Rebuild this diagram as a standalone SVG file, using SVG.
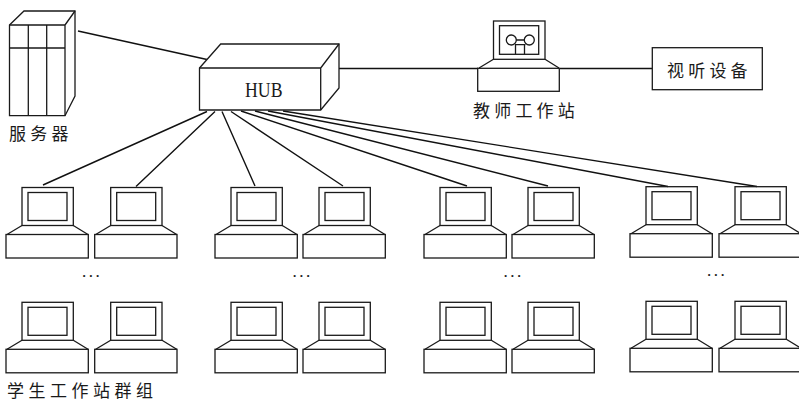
<svg xmlns="http://www.w3.org/2000/svg" width="799" height="401" viewBox="0 0 799 401">
<style>
.s{fill:none;stroke:#1a1a1a;stroke-width:1.3}
.w{fill:#fff;stroke:#1a1a1a;stroke-width:1.3}
.c{stroke:#111;stroke-width:1.4;fill:none}
text{font-family:"Noto Sans CJK SC","Liberation Serif",serif;fill:#1a1a1a}
.l{font-size:17px;letter-spacing:4.200px}
.d{font-family:"Liberation Serif",serif;font-size:13px;letter-spacing:3.500px;font-weight:bold}
.h{font-family:"Liberation Serif",serif;font-size:20px}
</style>
<defs>
<g id="pc">
<rect class="s" x="0" y="0" width="51.300" height="38"/>
<rect class="s" x="6" y="5" width="39" height="28"/>
<path class="s" d="M0 38L-15 47M51.300 38L66 47"/>
<rect class="s" x="-16" y="47" width="82.300" height="23.500"/>
</g>
</defs>
<rect width="799" height="401" fill="#fff"/>
<g id="connectors">
<path class="c" d="M78 31L207 59.500"/>
<path class="c" d="M339 68.500H478M560 68.500H652"/>
<path class="c" d="M207 111.500L43 185M215 111.500L136 186.500M222 111.500L255 186M231 111.500L343 186M241 111L467 186M255 111L548 186M268 111L668 186.500M283 111L757 186.500"/>
</g>
<g id="server">
<path class="w" d="M9.500 25L24 11H75V96L65 115.700H9.500Z"/>
<path class="s" d="M9.500 25H65V115.700M65 25L75 11M9.500 48H65M28.300 25V115.700M46.700 25V115.700"/>
<text class="l" x="9" y="140">服务器</text>
</g>
<g id="hub">
<path class="w" d="M199.500 68L220.700 44H339V88L320.700 110H199.500Z"/>
<path class="s" d="M199.500 68H320.700V110M320.700 68L339 44"/>
<text class="h" x="245" y="97" textLength="37.500" lengthAdjust="spacingAndGlyphs">HUB</text>
</g>
<g id="teacher">
<rect class="s" x="493.500" y="21" width="51.500" height="38.300"/>
<rect class="s" x="499.500" y="25.700" width="39.200" height="28.600"/>
<circle class="s" cx="511.300" cy="40" r="5"/>
<circle class="s" cx="529.300" cy="40" r="5"/>
<path class="s" d="M516.300 40H524.300M515 44.700H525.500M515.500 44.700V54M524.500 44.700V54"/>
<path class="s" d="M493.500 59.300L479 68M545 59.300L559 68"/>
<rect class="s" x="477.700" y="68.300" width="81.600" height="23"/>
<text class="l" x="473" y="117">教师工作站</text>
</g>
<g id="av">
<rect class="w" x="652.300" y="47.700" width="110" height="42"/>
<text class="l" x="667" y="77">视听设备</text>
</g>
<g id="s1"><use href="#pc" x="22" y="187.500"/></g>
<g id="s2"><use href="#pc" x="110.700" y="187.500"/></g>
<g id="s3"><use href="#pc" x="231" y="187.500"/></g>
<g id="s4"><use href="#pc" x="319" y="187.500"/></g>
<g id="s5"><use href="#pc" x="440" y="187.500"/></g>
<g id="s6"><use href="#pc" x="528" y="187.500"/></g>
<g id="s7"><use href="#pc" x="646" y="186.700"/></g>
<g id="s8"><use href="#pc" x="735" y="186.700"/></g>
<g id="s9"><use href="#pc" x="22" y="302.300"/></g>
<g id="s10"><use href="#pc" x="110.700" y="302.300"/></g>
<g id="s11"><use href="#pc" x="231" y="302.300"/></g>
<g id="s12"><use href="#pc" x="319" y="302.300"/></g>
<g id="s13"><use href="#pc" x="440" y="302.300"/></g>
<g id="s14"><use href="#pc" x="528" y="302.300"/></g>
<g id="s15"><use href="#pc" x="646" y="301.300"/></g>
<g id="s16"><use href="#pc" x="735" y="301.300"/></g>
<g id="dots">
<text class="d" x="82.500" y="277">...</text>
<text class="d" x="293" y="277">...</text>
<text class="d" x="504" y="277">...</text>
<text class="d" x="707.500" y="276">...</text>
</g>
<text class="l" style="letter-spacing:4.500px" x="7" y="397">学生工作站群组</text>
</svg>
